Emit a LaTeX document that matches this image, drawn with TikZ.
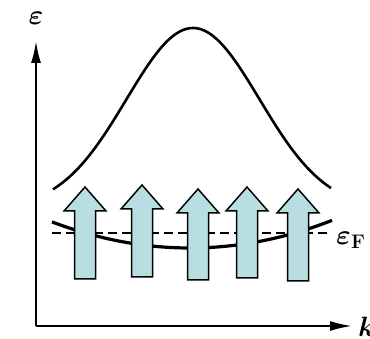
\documentclass[tikz,border=0pt]{standalone}
\usepackage{fix-cm}
\usepackage{amsmath, amssymb}
\usepackage{tikz}
\usetikzlibrary{arrows.meta, positioning}
\usepackage{xcolor}
\definecolor{spinblue}{RGB}{184, 222, 226}
\tikzset{biglabel/.style={font=\fontsize{28}{32}\selectfont\boldmath, inner sep=0pt}}

\begin{document}
\begin{tikzpicture}[x=1pt, y=-1pt]
        \useasboundingbox (0,0) rectangle (370,339);
        % axes
        \draw[line width=2pt, -{Latex[length=22pt,width=10pt]}] (36,326) -- (36,41);
        \draw[line width=2pt, -{Latex[length=22pt,width=10pt]}] (36,326) -- (352,326);
        \node[biglabel] (eps) at (36,18) {$\varepsilon$};
        \node[biglabel, anchor=west] (kk) at (358,327) {$k$};
        % upper band
        \draw[line width=2.6pt, domain=53:331, samples=80, smooth]
          plot (\x, {209 - 181*exp(-((\x-193)/94)^2)});
        % lower band and Fermi level
        \draw[line width=3.2pt, domain=52:332, samples=60, smooth]
          plot (\x, {248 - 0.137*((\x-190)/10)^2});
        \draw[line width=1.6pt, dash pattern=on 9pt off 5pt] (52,233) -- (328,233);
        \node[biglabel, anchor=west] (ef) at (336,240) {$\varepsilon_{\mathrm{F}}$};
        % spins
        \foreach \tx/\ty/\by in {85/187/279, 142/185/277, 198/189/280, 247/187/278, 298/189/281}
          \filldraw[fill=spinblue, draw=black, line width=1.5pt, line join=miter]
            (\tx,\ty) -- (\tx+21,\ty+24) -- (\tx+10.5,\ty+24) -- (\tx+10.5,\by)
            -- (\tx-10.5,\by) -- (\tx-10.5,\ty+24) -- (\tx-21,\ty+24) -- cycle;
      \end{tikzpicture}
\end{document}
